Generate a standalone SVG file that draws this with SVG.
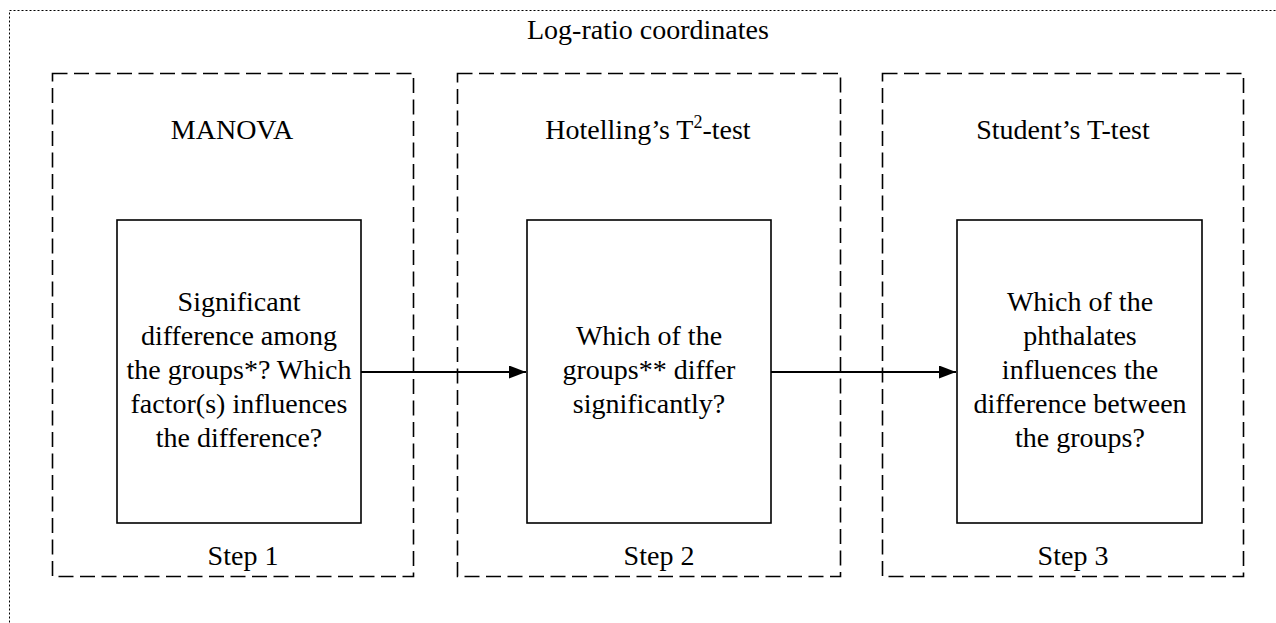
<svg xmlns="http://www.w3.org/2000/svg" width="1276" height="623" viewBox="0 0 1276 623">
  <style>
    text { font-family: "Liberation Serif", "Times New Roman", serif; font-size: 28px; fill: #000; }
    .mid { text-anchor: middle; }
    .frame { fill: none; stroke: #000; stroke-width: 1; stroke-dasharray: 2 2; }
    .stage { fill: none; stroke: #000; stroke-width: 1.6; stroke-dasharray: 15 6.5; }
    .task { fill: #fff; stroke: #000; stroke-width: 1.6; }
    .link { stroke: #000; stroke-width: 2; fill: none; }
  </style>
  <defs>
    <marker id="arrow" markerWidth="17" markerHeight="13" refX="17" refY="6.5" orient="auto" markerUnits="userSpaceOnUse">
      <path d="M0,0 L17,6.5 L0,13 Z" fill="#000"/>
    </marker>
  </defs>

  <rect width="1276" height="623" fill="#fff"/>

  <!-- outer dotted frame -->
  <g id="frame">
    <rect class="frame" x="9.5" y="10.5" width="1290" height="640"/>
    <text x="527" y="39">Log-ratio coordinates</text>
  </g>

  <!-- step 1 -->
  <g id="step1">
    <rect class="stage" x="52.5" y="73.5" width="361" height="503"/>
    <text class="mid" x="232" y="139">MANOVA</text>
    <rect class="task" x="117" y="220" width="244" height="303"/>
    <text class="mid" x="239" y="311">Significant</text>
    <text class="mid" x="239" y="345">difference among</text>
    <text class="mid" x="239" y="379">the groups*? Which</text>
    <text class="mid" x="239" y="413">factor(s) influences</text>
    <text class="mid" x="239" y="447">the difference?</text>
    <text class="mid" x="243" y="565">Step 1</text>
  </g>

  <!-- step 2 -->
  <g id="step2">
    <rect class="stage" x="457.5" y="73.5" width="383" height="503"/>
    <text class="mid" x="648" y="139">Hotelling’s T<tspan font-size="18" dy="-11">2</tspan><tspan dy="11">-test</tspan></text>
    <rect class="task" x="527" y="220" width="244" height="303"/>
    <text class="mid" x="649" y="345">Which of the</text>
    <text class="mid" x="649" y="379">groups** differ</text>
    <text class="mid" x="649" y="413">significantly?</text>
    <text class="mid" x="659" y="565">Step 2</text>
  </g>

  <!-- step 3 -->
  <g id="step3">
    <rect class="stage" x="882.5" y="73.5" width="361" height="503"/>
    <text class="mid" x="1063" y="139">Student’s T-test</text>
    <rect class="task" x="957" y="220" width="245" height="303"/>
    <text class="mid" x="1080" y="311">Which of the</text>
    <text class="mid" x="1080" y="345">phthalates</text>
    <text class="mid" x="1080" y="379">influences the</text>
    <text class="mid" x="1080" y="413">difference between</text>
    <text class="mid" x="1080" y="447">the groups?</text>
    <text class="mid" x="1073" y="565">Step 3</text>
  </g>

  <!-- connectors -->
  <g id="connectors">
    <line class="link" x1="361" y1="372" x2="526" y2="372" marker-end="url(#arrow)"/>
    <line class="link" x1="771" y1="372" x2="956" y2="372" marker-end="url(#arrow)"/>
  </g>
</svg>
